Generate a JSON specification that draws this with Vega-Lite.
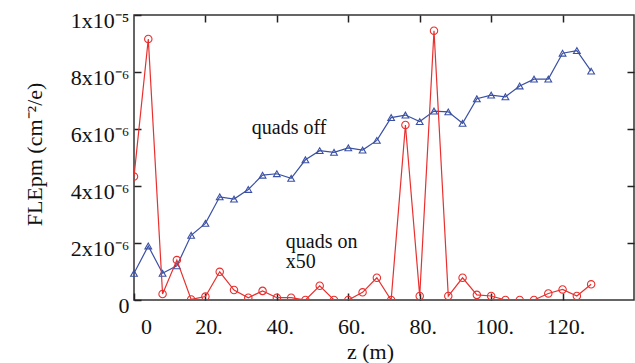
{
  "$schema": "https://vega.github.io/schema/vega-lite/v6.json",
  "autosize": {"type": "none"},
  "padding": {"left": 134, "top": 15, "right": 1, "bottom": 63},
  "width": 500,
  "height": 285,
  "background": "white",
  "config": {
    "view": {"stroke": "#333333", "strokeWidth": 1.5},
    "font": "Liberation Serif",
    "axis": {
      "grid": false,
      "domain": false,
      "ticks": true,
      "offset": -7,
      "tickColor": "#222222",
      "tickWidth": 1.5,
      "tickSize": 7,
      "tickOpacity": 1,
      "labelFont": "Liberation Serif",
      "labelFontSize": 22,
      "labelColor": "#111111",
      "titleFont": "Liberation Serif",
      "titleFontSize": 22,
      "titleFontWeight": "normal",
      "titleColor": "#111111"
    }
  },
  "data": {
    "values": [
      {"z": 0, "off": 9.37e-7, "on": 4.33e-6},
      {"z": 4, "off": 1.895e-6, "on": 9.16e-6},
      {"z": 8, "off": 9.37e-7, "on": 2.1e-7},
      {"z": 12, "off": 1.2e-6, "on": 1.4e-6},
      {"z": 16, "off": 2.27e-6, "on": 2e-8},
      {"z": 20, "off": 2.69e-6, "on": 1.2e-7},
      {"z": 24, "off": 3.62e-6, "on": 9.9e-7},
      {"z": 28, "off": 3.54e-6, "on": 3.5e-7},
      {"z": 32, "off": 3.88e-6, "on": 8e-8},
      {"z": 36, "off": 4.38e-6, "on": 3.2e-7},
      {"z": 40, "off": 4.43e-6, "on": 8e-8},
      {"z": 44, "off": 4.27e-6, "on": 8e-8},
      {"z": 48, "off": 4.92e-6, "on": 0},
      {"z": 52, "off": 5.24e-6, "on": 5e-7},
      {"z": 56, "off": 5.18e-6, "on": 0},
      {"z": 60, "off": 5.34e-6, "on": 0},
      {"z": 64, "off": 5.26e-6, "on": 2.7e-7},
      {"z": 68, "off": 5.6e-6, "on": 7.8e-7},
      {"z": 72, "off": 6.4e-6, "on": 0},
      {"z": 76, "off": 6.49e-6, "on": 6.14e-6},
      {"z": 80, "off": 6.26e-6, "on": 1.4e-7},
      {"z": 84, "off": 6.63e-6, "on": 9.45e-6},
      {"z": 88, "off": 6.6e-6, "on": 1.4e-7},
      {"z": 92, "off": 6.2e-6, "on": 7.8e-7},
      {"z": 96, "off": 7.06e-6, "on": 1.8e-7},
      {"z": 100, "off": 7.19e-6, "on": 1.4e-7},
      {"z": 104, "off": 7.13e-6, "on": 0},
      {"z": 108, "off": 7.51e-6, "on": 0},
      {"z": 112, "off": 7.75e-6, "on": 0},
      {"z": 116, "off": 7.75e-6, "on": 2.3e-7},
      {"z": 120, "off": 8.66e-6, "on": 3.7e-7},
      {"z": 124, "off": 8.75e-6, "on": 1.4e-7},
      {"z": 128, "off": 8.03e-6, "on": 5.5e-7}
    ]
  },
  "resolve": {"scale": {"x": "independent", "y": "independent"}},
  "layer": [
    {
      "encoding": {
        "x": {
          "field": "z", "type": "quantitative",
          "scale": {"domain": [0, 140], "nice": false, "zero": false},
          "axis": {
            "orient": "bottom",
            "values": [0, 20, 40, 60, 80, 100, 120],
            "labelExpr": "datum.value == 0 ? '0' : datum.value + '.'",
            "labelBaseline": "alphabetic",
            "labelPadding": 33,
            "labelOffset": {"condition": {"test": "datum.value == 0", "value": 6.5}, "value": 3},
            "title": "z (m)",
            "titleBaseline": "alphabetic",
            "titleX": 236,
            "titleY": 65
          }
        },
        "y": {
          "type": "quantitative",
          "scale": {"domain": [0, 1e-5], "nice": false, "zero": false},
          "axis": {
            "orient": "left",
            "values": [0, 2e-6, 4e-6, 6e-6, 8e-6, 1e-5],
            "labelExpr": "datum.value == 0 ? '0' : (datum.value > 9e-6 ? '1x10⁻⁵' : round(datum.value * 1e6) + 'x10⁻⁶')",
            "labelBaseline": "alphabetic",
            "labelOffset": 12.5,
            "labelPadding": 5,
            "title": "FLEpm (cm⁻²/e)",
            "titleBaseline": "alphabetic",
            "titleX": -100,
            "titleY": 139
          }
        }
      },
      "layer": [
        {
          "mark": {"type": "line", "color": "#3a50a4", "strokeWidth": 1.2},
          "encoding": {"y": {"field": "off"}}
        },
        {
          "mark": {"type": "point", "shape": "triangle-up", "filled": false, "color": "#3a50a4", "size": 45, "strokeWidth": 1.1, "opacity": 1},
          "encoding": {"y": {"field": "off"}}
        },
        {
          "mark": {"type": "line", "color": "#e8302e", "strokeWidth": 1.2, "clip": true},
          "encoding": {"y": {"field": "on"}}
        },
        {
          "mark": {"type": "point", "shape": "circle", "filled": false, "color": "#e8302e", "size": 55, "strokeWidth": 1.1, "opacity": 1, "clip": true},
          "encoding": {"y": {"field": "on"}}
        },
        {
          "data": {
            "values": [
              {"tz": 33, "tv": 5.81e-6, "label": "quads off"},
              {"tz": 42.5, "tv": 1.835e-6, "label": "quads on"},
              {"tz": 42.5, "tv": 1.11e-6, "label": "x50"}
            ]
          },
          "mark": {"type": "text", "align": "left", "baseline": "alphabetic", "font": "Liberation Serif", "fontSize": 20, "color": "#111111"},
          "encoding": {
            "x": {"field": "tz", "type": "quantitative"},
            "y": {"field": "tv", "type": "quantitative"},
            "text": {"field": "label", "type": "nominal"}
          }
        }
      ]
    },
    {
      "mark": {"type": "point", "opacity": 0},
      "encoding": {
        "x": {
          "field": "z", "type": "quantitative",
          "scale": {"domain": [0, 140], "nice": false, "zero": false},
          "axis": {"orient": "top", "values": [20, 40, 60, 80, 100, 120], "labels": false, "title": null}
        },
        "y": {
          "field": "off", "type": "quantitative",
          "scale": {"domain": [0, 1e-5], "nice": false, "zero": false},
          "axis": {"orient": "right", "values": [2e-6, 4e-6, 6e-6, 8e-6], "labels": false, "title": null}
        }
      }
    }
  ]
}
